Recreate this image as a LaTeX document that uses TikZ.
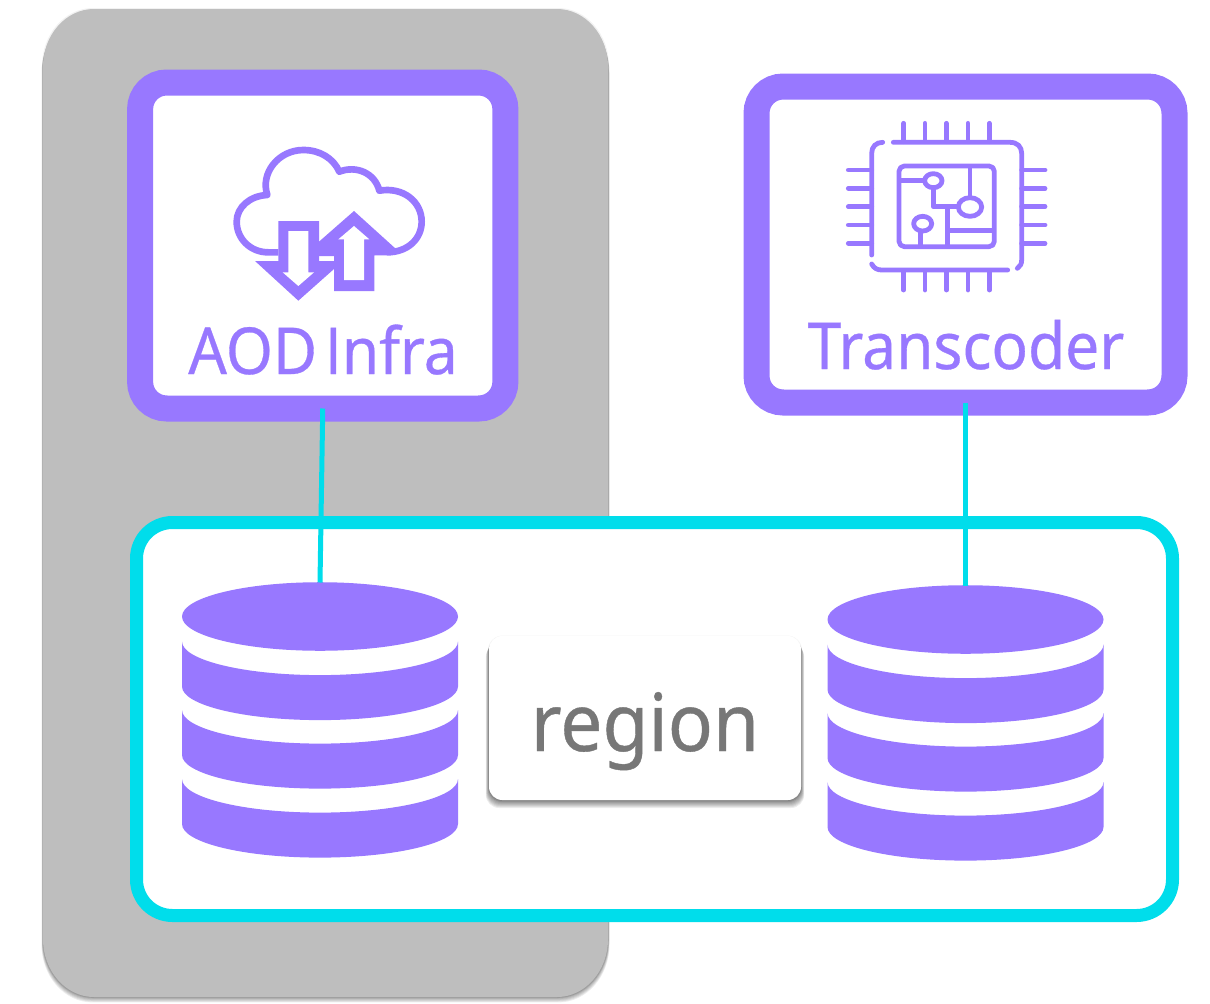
\documentclass[tikz,border=0pt]{standalone}
\usepackage{fontspec}
\setmainfont{Noto Sans}[FakeStretch=0.935,FakeBold=0.5,WordSpace=0.5]
\newfontfamily\plainfont{Open Sans}[FakeStretch=0.935,FakeBold=0.5]
\definecolor{violet}{HTML}{9878FF}
\definecolor{aqua}{HTML}{00DDEB}
\definecolor{panel}{HTML}{BEBEBE}
\definecolor{labelgray}{HTML}{777777}
\tikzset{
  framebox/.style={draw=violet,line width=19.5pt,fill=white,rounded corners=20pt,outer sep=0pt,inner sep=0pt},
  regionframe/.style={draw=aqua,line width=9.75pt,fill=white,rounded corners=27pt,outer sep=0pt,inner sep=0pt},
  link/.style={draw=aqua,line width=3.75pt},
  dbanchor/.style={minimum width=207pt,minimum height=207pt,inner sep=0pt,outer sep=0pt},
  caption/.style={text=violet,font=\fontsize{48.5pt}{50pt}\selectfont,inner sep=0pt,anchor=base},
  iconline/.style={draw=violet,line width=3.6pt,line cap=round,line join=round},
  cloudline/.style={draw=violet,line width=5pt,line join=round}
}
\newcommand{\dbdraw}[1]{%
  \begin{scope}[shift={(#1.center)}]
    \fill[violet] (-138,-104) arc[start angle=180,end angle=-180,x radius=103.5pt,y radius=25.7pt];
    \foreach \t in {-79,-10.5,58.5}{
      \fill[violet] (-138,\t) -- (-138,\t+45) arc[start angle=180,end angle=360,x radius=103.5pt,y radius=25.2pt]
        -- (138,\t) arc[start angle=360,end angle=180,x radius=103.5pt,y radius=25.2pt] -- cycle;
    }
  \end{scope}}
% rounded panel with elliptical corners: left, top, right, bottom in px
\newcommand{\panelpath}[4]{%
  (#1+51,#2) -- (#3-51,#2) arc[start angle=90,end angle=0,x radius=38.25pt,y radius=43.5pt]
  -- (#3,#4-58) arc[start angle=0,end angle=-90,x radius=38.25pt,y radius=43.5pt]
  -- (#1+51,#4) arc[start angle=-90,end angle=-180,x radius=38.25pt,y radius=43.5pt]
  -- (#1,#2+58) arc[start angle=180,end angle=90,x radius=38.25pt,y radius=43.5pt] -- cycle}
\begin{document}
\begin{tikzpicture}[x=0.75pt,y=-0.75pt]
\useasboundingbox (0,0) rectangle (1210,1003);
% gray panel with soft shadow
\fill[black,opacity=0.05] \panelpath{42}{8}{609}{998};
\foreach \o in {1,2,3,4,5,6}{
  \fill[black,opacity=0.07] \panelpath{43-\o*0.25}{9+\o}{608+\o*0.25}{997+\o*0.9};
}
\fill[panel] \panelpath{43}{9}{608}{997};
% frames
\node[framebox,minimum width=274pt,minimum height=244.5pt] (aod) at (322.75,245.5) {};
\node[framebox,minimum width=313.5pt,minimum height=237pt] (trans) at (965.5,244.5) {};
\node[regionframe,minimum width=777pt,minimum height=294.75pt] (regionbox) at (654.5,719) {};
% databases
\node[dbanchor] (dba) at (320,720.5) {};
\node[dbanchor] (dbb) at (965.5,723.5) {};
\dbdraw{dba}
\dbdraw{dbb}
% connectors
\draw[link] (aod.south) -- (dba.north);
\draw[link] (trans.south) -- (dbb.north);
% region label
\fill[black,opacity=0.04,rounded corners=11pt] (488,635.5) rectangle (802,802);
\foreach \o in {1,2,3,4,5,6,7,8}{
  \fill[black,opacity=0.07,rounded corners=10pt] (489-\o*0.4,636+\o) rectangle (801+\o*0.4,800+\o);
}
\node[fill=white,rounded corners=10pt,minimum width=234pt,minimum height=123pt,inner sep=0pt,outer sep=0pt] (regionlabel) at (645,718) {};
\node[text=labelgray,font=\fontsize{60pt}{60pt}\selectfont,inner sep=0pt,anchor=base] (regiontext) at (645,751) {region};
% captions
\node[caption] (aodtext) at (323,374) {AOD {\plainfont I}nfra};
\node[caption] (transtext) at (966,369) {Transcoder};
% cloud icon
\begin{scope}[shift={(210,130)},x=0.25pt,y=-0.25pt]
  \draw[cloudline] (205,367) -- (175,367) .. controls (120,367) and (80,325) .. (80,275)
    .. controls (80,232) and (120,197) .. (172,195)
    .. controls (150,130) and (205,60) .. (280,60)
    .. controls (330,60) and (370,85) .. (388,125)
    .. controls (440,105) and (495,130) .. (508,182)
    .. controls (580,170) and (635,215) .. (635,275)
    .. controls (635,325) and (595,367) .. (530,367);
  \fill[violet] (135,393) -- (205,393) -- (205,273) -- (327,273) -- (327,393) -- (372,393) -- (372,417) -- (265,512) -- cycle;
  \fill[violet] (432,243) -- (558,357) -- (530,376) -- (493,376) -- (493,483) -- (372,483) -- (372,378) -- (327,378) -- (327,335) -- cycle;
  \fill[white] (235,303) -- (295,303) -- (295,427) -- (312,427) -- (265,468) -- (218,427) -- (235,427) -- cycle;
  \fill[white] (432,288) -- (478,328) -- (462,328) -- (462,450) -- (402,450) -- (402,328) -- (385,328) -- cycle;
\end{scope}
% chip icon
\begin{scope}[shift={(830,110)},x=0.25pt,y=-0.25pt]
  \foreach \p in {221,285,349,414,478}{
    \draw[iconline] (\p,40) -- (\p,95);
    \draw[iconline] (\p,482) -- (\p,540);
  }
  \foreach \p in {180,235,290,345,400}{
    \draw[iconline] (55,\p) -- (125,\p);
    \draw[iconline] (575,\p) -- (645,\p);
  }
  \draw[iconline] (158,97) .. controls (138,97) and (125,110) .. (125,130) -- (125,435);
  \draw[iconline] (190,97) -- (540,97) .. controls (562,97) and (575,110) .. (575,130) -- (575,450) .. controls (575,462) and (570,470) .. (562,475);
  \draw[iconline] (125,462) .. controls (132,475) and (142,480) .. (155,480) -- (533,480);
  \draw[iconline,rounded corners=4pt] (207,168) rectangle (493,410);
  \draw[iconline,line cap=butt] (207,212) -- (284,212);
  \draw[iconline,line cap=butt] (310,233) -- (310,290) -- (385,290);
  \draw[iconline,line cap=butt] (420,170) -- (420,262);
  \draw[iconline,line cap=butt] (352,290) -- (352,405);
  \draw[iconline,line cap=butt] (352,362) -- (490,362);
  \draw[iconline,line cap=butt] (272,363) -- (272,405);
  \draw[iconline] (310,212) ellipse [x radius=6.5pt,y radius=5.25pt];
  \draw[iconline] (420,291) ellipse [x radius=8.75pt,y radius=7pt];
  \draw[iconline] (278,341) ellipse [x radius=6.75pt,y radius=5.5pt];
\end{scope}
\end{tikzpicture}
\end{document}
